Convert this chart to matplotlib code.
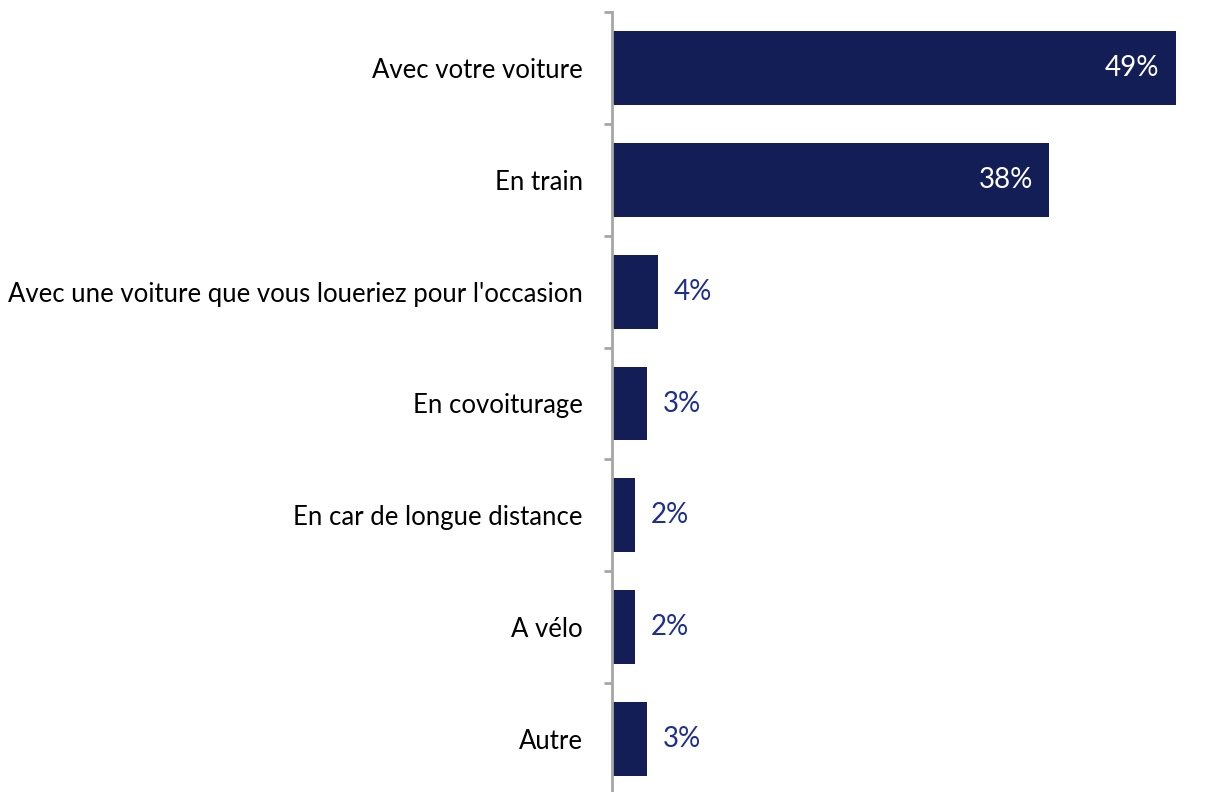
import matplotlib.pyplot as plt
import numpy as np

# modes de transport et parts (%)
categories = [
    "Avec votre voiture",
    "En train",
    "Avec une voiture que vous loueriez pour l'occasion",
    "En covoiturage",
    "En car de longue distance",
    "A vélo",
    "Autre",
]
values = [49, 38, 4, 3, 2, 2, 3]

bar_color = '#131E56'
label_color = '#1F2F8A'
axis_color = '#A6A6A6'

plt.rcParams['font.family'] = ['Lato', 'DejaVu Sans']

fig = plt.figure(figsize=(12.26, 7.92), dpi=100)
ax = fig.add_axes([612 / 1226, -3 / 792, 614 / 1226, 783 / 792])

y = np.arange(len(categories))
ax.barh(y, values, height=0.66, color=bar_color)

ax.set_ylim(len(categories) - 0.5, -0.5)
ax.set_xlim(0, 614 / 11.5)

for yi, v in zip(y, values):
    if v > 10:
        ax.text(v - 1.4, yi, f"{v}%", ha='right', va='center',
                color='white', fontsize=20)
    else:
        ax.text(v + 1.4, yi, f"{v}%", ha='left', va='center',
                color=label_color, fontsize=20)

ax.set_yticks(y)
ax.set_yticklabels(categories, fontsize=18.5)
ax.set_yticks(np.arange(-0.5, len(categories), 1), minor=True)
ax.tick_params(axis='y', which='major', length=0, pad=21)
ax.tick_params(axis='y', which='minor', length=6, width=2, color=axis_color)
ax.set_xticks([])

for s in ['top', 'right', 'bottom']:
    ax.spines[s].set_visible(False)
ax.spines['left'].set_color(axis_color)
ax.spines['left'].set_linewidth(2)

fig.savefig('out.png', dpi=100)
